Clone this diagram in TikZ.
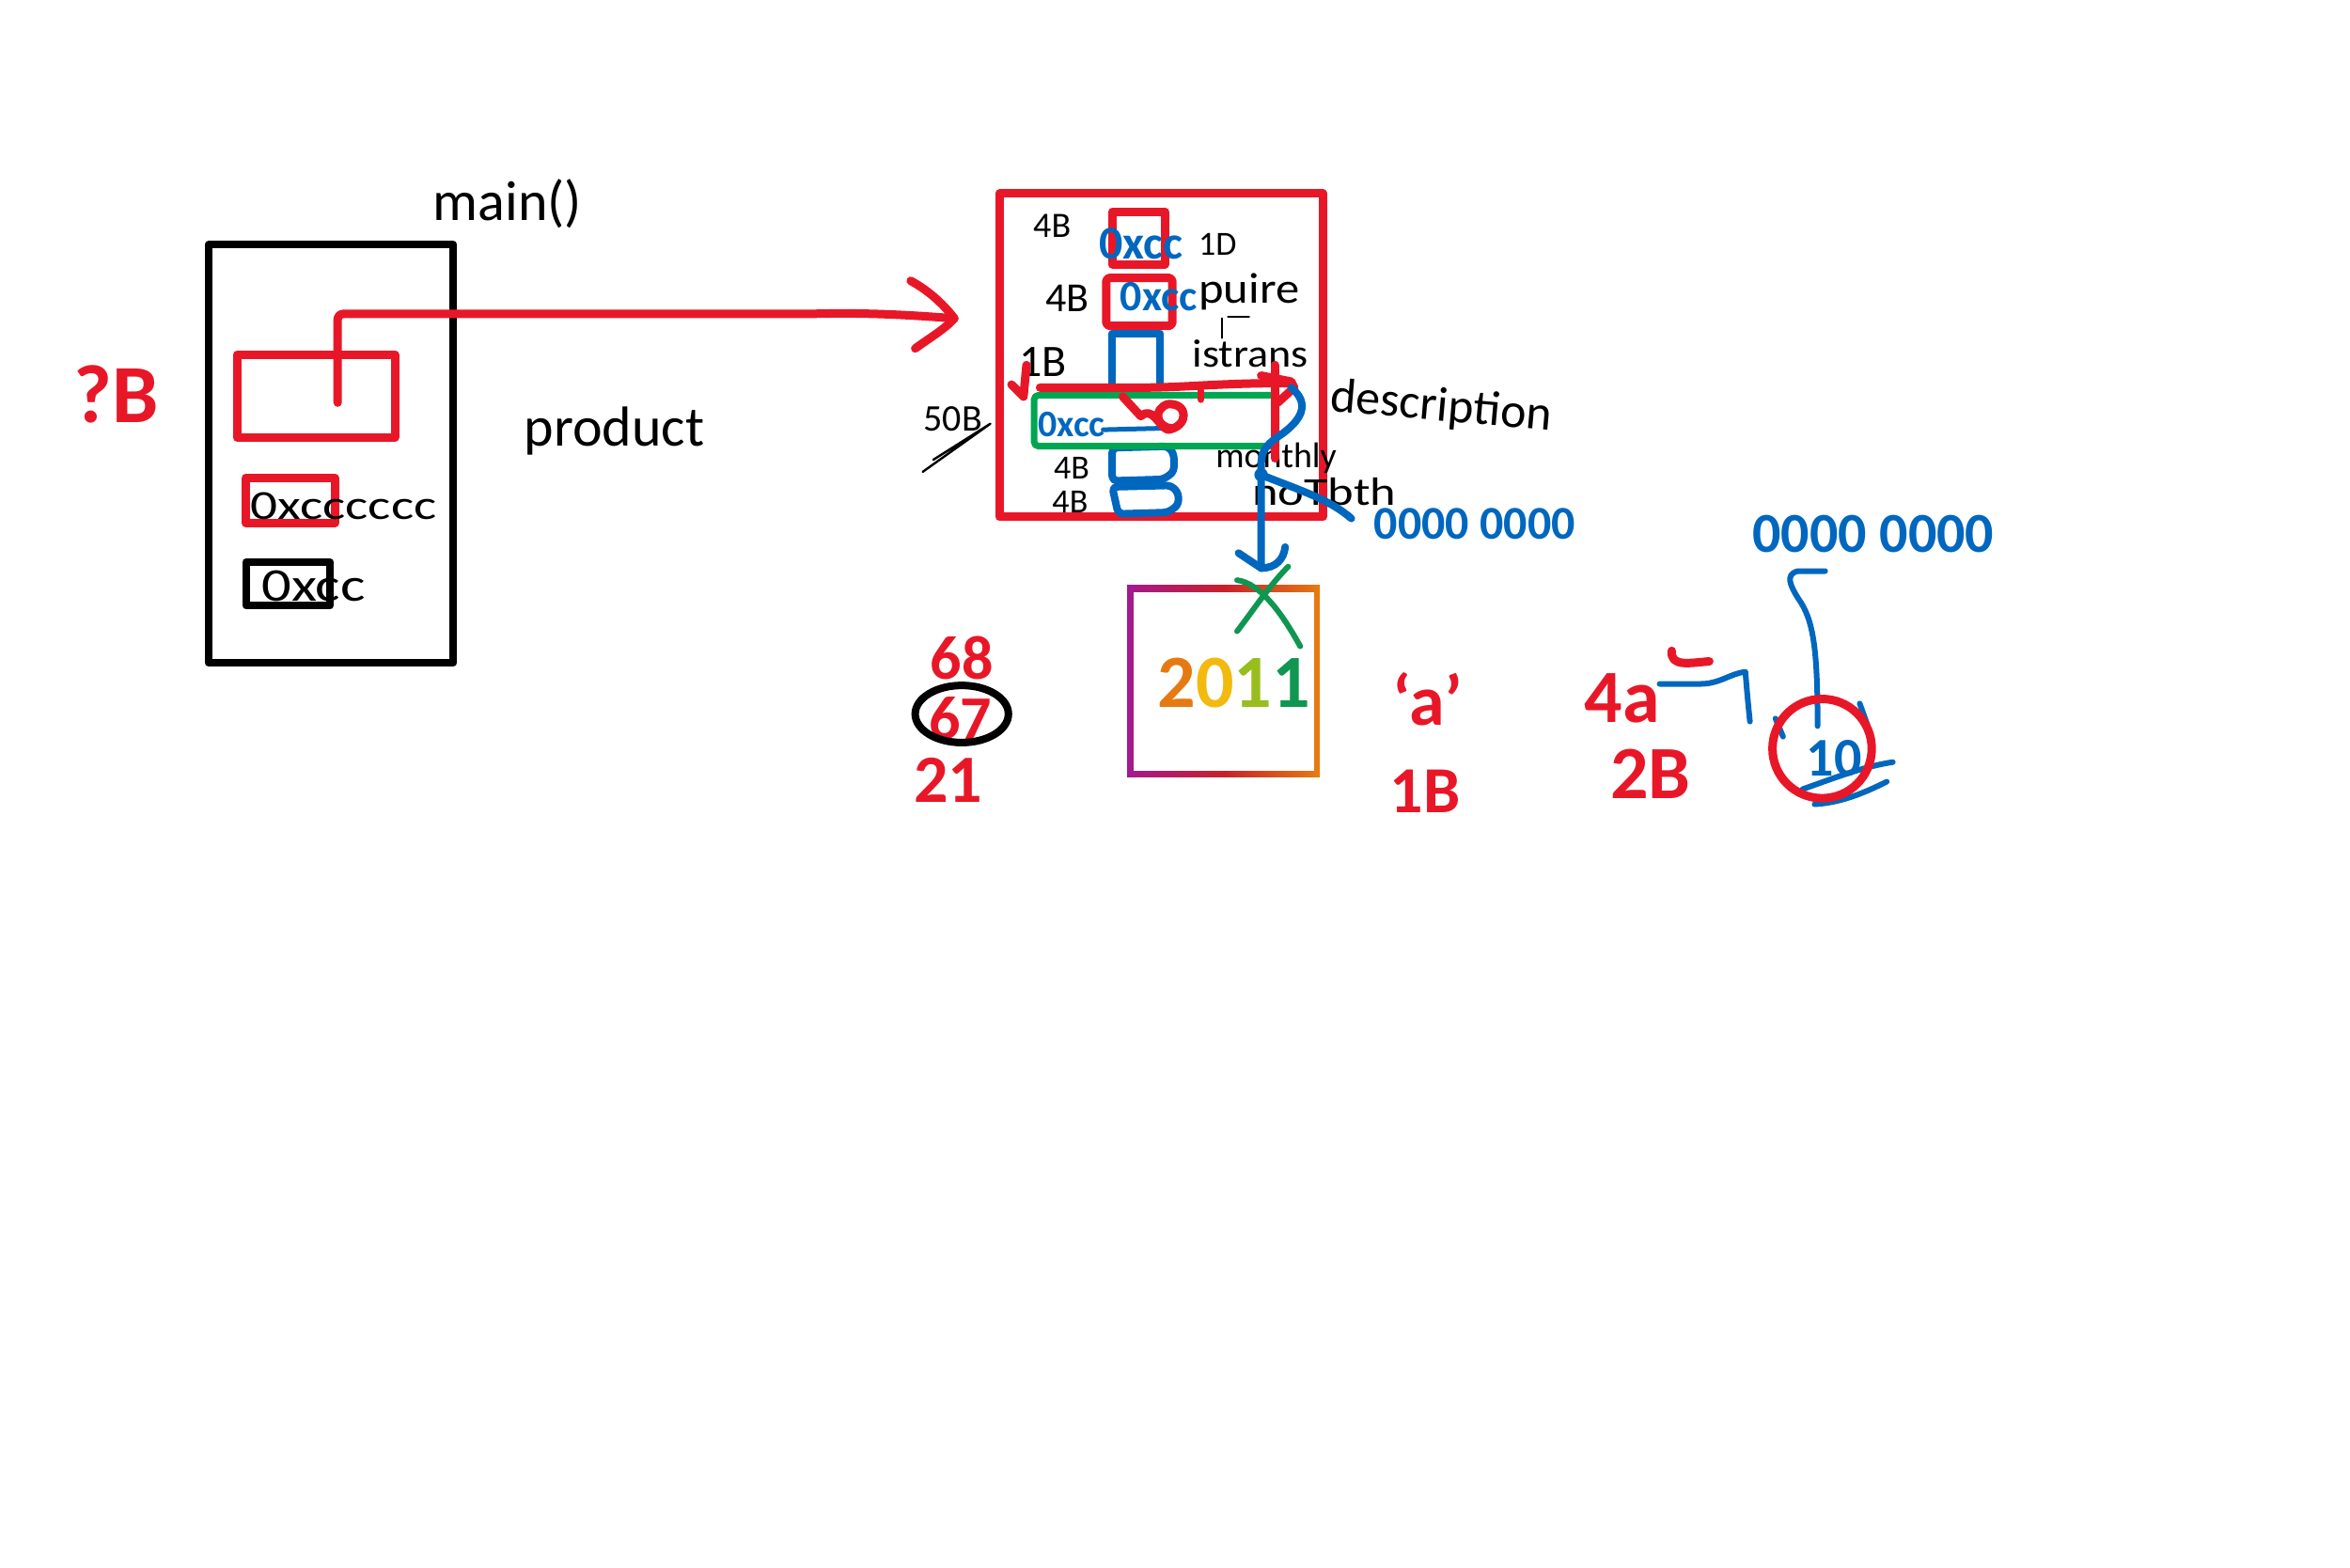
\documentclass[tikz,border=0pt]{standalone}
\usepackage{fontspec}
\usepackage{graphicx}
\setmainfont{Carlito}
\usetikzlibrary{calc}
\definecolor{hred}{HTML}{E81728}
\definecolor{hblue}{HTML}{0067BF}
\definecolor{hgreen}{HTML}{00A651}
\definecolor{xgreen}{HTML}{0F9650}
\definecolor{gpurple}{HTML}{A3198F}
\definecolor{gred}{HTML}{C8202A}
\definecolor{gorange}{HTML}{E57A12}
\definecolor{gyellow}{HTML}{F2B90F}
\definecolor{glime}{HTML}{98BE1E}
\newcommand{\fs}[1]{\fontsize{#1}{#1}\selectfont}
\newcommand{\wide}[2]{\scalebox{#1}[1]{#2}}
\tikzset{
 pen/.style={line cap=round,line join=round},
 blk/.style={pen,draw=black,line width=8pt},
 redl/.style={pen,draw=hred,line width=9pt},
 bluel/.style={pen,draw=hblue,line width=8pt},
 thin pen/.style={pen,draw=black,line width=2.4pt},
 sz/.style={inner sep=0pt,font=\fs{#1},text height=#1pt*0.62,text depth=0pt},
 bsz/.style={inner sep=0pt,font=\bfseries\fs{#1},text height=#1pt*0.62,text depth=0pt},
 note/.style={sz=#1,text=black},
 rednum/.style={bsz=#1,text=hred},
 bluenum/.style={bsz=#1,text=hblue},
}
\begin{document}
\begin{tikzpicture}[x=1.6pt,y=-1.6pt]
\useasboundingbox (1.5,0.3) rectangle (1564,1042.2);
% left frame
\draw[blk] (140,163) rectangle (303,441);
\node[note=60] (mainlbl) at (339,135) {main()};
\node[note=60] (productlbl) at (410,285) {product};
\node[rednum=88] (qb) at (79,264) {?B};
\draw[redl] (159,236) rectangle (264,291);
\draw[redl] (165,318) rectangle (224,348);
\draw[blk] (165,374) rectangle (221,403);
\node[note=44] (addra) at (230,337) {\wide{1.3}{0xcccccc}};
\node[note=50] (addrb) at (210,390) {\wide{1.25}{0xcc}};
% big red frame
\draw[redl] (666,129) rectangle (881,344);
\coordinate (ptrstart) at (226,268);
\coordinate (ptrtip) at (636,212);
\draw[redl,rounded corners=6pt] (ptrstart) -- (226,209) -- (540,209) .. controls (580,208) and (610,210) .. (ptrtip);
\draw[redl] (607,187) .. controls (620,194) and (630,204) .. (ptrtip) .. controls (630,219) and (618,226) .. (610,232);
% fields
\draw[redl] (741,141) rectangle (776,176);
\draw[redl,rounded corners=4pt] (737,185) rectangle (781,217);
\draw[bluel] (741,222) rectangle (773,258);
\draw[bluel,rounded corners=5pt] (741,298) -- (778,297) -- (782,302) -- (782,314) -- (775,319) -- (741,320) -- cycle;
\draw[bluel,rounded corners=5pt] (741,324) -- (780,323) -- (785,328) -- (785,336) -- (778,341) -- (745,342) -- cycle;
\draw[pen,draw=hgreen,line width=7pt,rounded corners=5pt] (689,263) rectangle (850,297);
\node[bluenum=50] (f1) at (760,163) {0xcc};
\node[bluenum=46] (f2) at (772,198) {0xcc};
\node[bluenum=40] (f3) at (714,283) {0xcc};
\draw[bluel,line width=5pt] (735,286) -- (775,285);
\node[note=38] (s1) at (701,151) {4B};
\node[note=44] (s2) at (711,199) {4B};
\node[note=48] (s3) at (695,241) {1B};
\node[note=36] (s4) at (714,312) {4B};
\node[note=36] (s5) at (713,334) {4B};
\node[note=36] (s6) at (811,163) {1D};
\node[note=46] (n1) at (832,193) {\wide{1.1}{puire}};
\node[note=42] (n2) at (833,236) {\wide{1.1}{istrans}};
\node[note=38] (n3) at (850,304) {monthly};
\node[note=42] (n4) at (882,328) {\wide{1.25}{noTbth}};
\node[note=52,rotate=-5] (n5) at (960,270) {description};
\node[note=40] (s50) at (635,279) {50B};
\draw[thin pen] (615,314) -- (660,282) -- (622,306);
\draw[thin pen] (814,212) -- (814,225) (818,211) -- (832,211);
% red marks over the green box
\draw[redl] (693,258) -- (760,258) .. controls (790,258) and (810,255) .. (858,255);
\draw[redl] (849,243) -- (849,305);
\draw[redl] (840,250) -- (860,254) -- (862,258) -- (851,268);
\draw[redl] (684,243) -- (682,264) -- (674,256);
\draw[redl] (748,264) -- (760,277) .. controls (768,270) and (772,284) .. (778,286) .. controls (792,284) and (792,268) .. (778,269) .. controls (768,272) and (770,284) .. (780,285);
\draw[redl,line width=7pt] (800,260) -- (800,266);
% blue pointer from description
\coordinate (bluetip) at (840,378);
\draw[bluel] (860,258) .. controls (872,268) and (868,278) .. (855,288) .. controls (845,295) and (840,298) .. (840,310) -- (bluetip);
\draw[bluel] (825,368) -- (840,378) .. controls (850,378) and (855,372) .. (856,364);
\draw[bluel] (840,316) .. controls (865,326) and (885,332) .. (900,345);
\fill[hblue] (840,316) circle (4.5);
\node[bluenum=50] (addr1) at (982,349) {0000 0000};
% rainbow box
\fill[left color=gpurple,right color=gorange,middle color=gred] (751,389.5) rectangle (879,393.5);
\fill[left color=gpurple,right color=gorange,middle color=gred] (751,513) rectangle (879,517);
\fill[gpurple] (751,389.5) rectangle (755,517);
\fill[gorange] (875,389.5) rectangle (879,517);
\draw[pen,draw=xgreen,line width=6pt] (824,386) .. controls (840,388) and (855,410) .. (866,430);
\draw[pen,draw=xgreen,line width=6pt] (858,377) .. controls (845,390) and (832,410) .. (824,420);
\node[bsz=80] (year) at (822,455) {\textcolor{gorange}{2}\textcolor{gyellow}{0}\textcolor{glime}{1}\textcolor{xgreen}{1}};
% numbers
\node[rednum=66] (n68) at (641,439) {68};
\node[rednum=66] (n67) at (640,479) {67};
\node[rednum=72] (n21) at (632,520) {21};
\draw[pen,draw=black,line width=8pt] (641,475) ellipse (31 and 19);
\node[rednum=76] (cha) at (951,468) {`a'};
\node[rednum=70] (n1b) at (949,527) {1B};
\node[rednum=80] (n4a) at (1080,465) {4a};
\node[rednum=80] (n2b) at (1099,516) {2B};
\draw[redl] (1113,433) .. controls (1112,444) and (1125,441) .. (1138,440);
\draw[bluel,line width=6pt] (1105,455) -- (1132,455) .. controls (1145,455) and (1152,448) .. (1162,447) .. controls (1163,460) and (1164,470) .. (1165,480);
% circled value
\draw[bluel,line width=6pt] (1215,380) -- (1197,380) .. controls (1188,382) and (1192,390) .. (1197,398) .. controls (1207,412) and (1210,430) .. (1210,483);
\node[bluenum=58] (val) at (1221,505) {10};
\draw[bluel,line width=6pt] (1200,525) .. controls (1220,518) and (1240,510) .. (1260,507);
\draw[bluel,line width=6pt] (1208,535) .. controls (1225,534) and (1240,528) .. (1256,520);
\draw[bluel,line width=6pt] (1182,478) -- (1187,490) (1238,468) -- (1243,482);
\draw[redl] (1213,498) circle (33);
\node[bluenum=60] (addr2) at (1247,356) {0000 0000};
\end{tikzpicture}
\end{document}
